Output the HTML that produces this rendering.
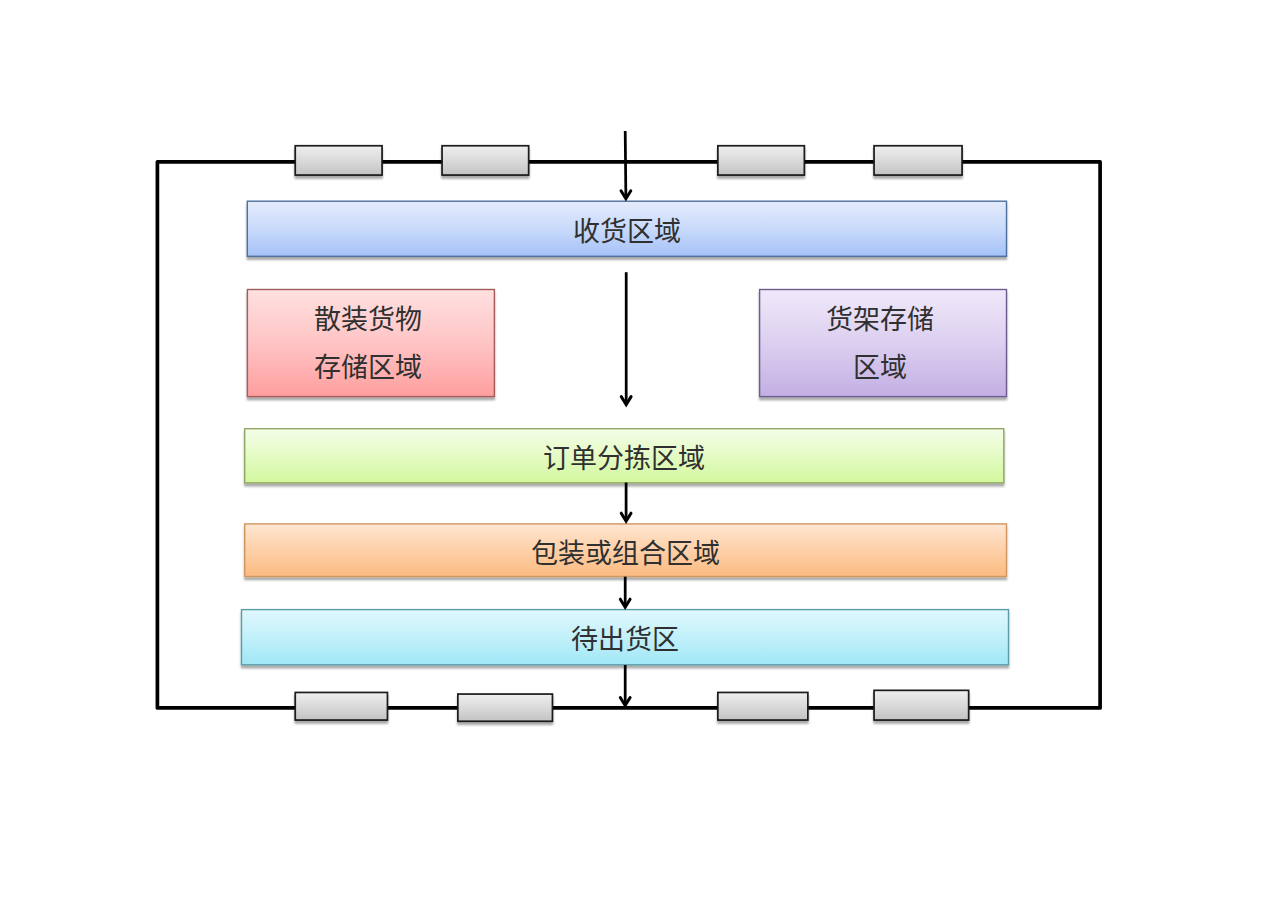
<!DOCTYPE html>
<html lang="zh-CN">
<head>
<meta charset="utf-8">
<title>仓库布局</title>
<style>
  html, body { margin: 0; padding: 0; background: #ffffff; }
  body { width: 1269px; height: 898px; position: relative; overflow: hidden;
         font-family: "Liberation Serif", serif; }
  svg { position: absolute; left: 0; top: 0; }
  .t { position: absolute; box-sizing: border-box; display: flex; align-items: center;
       justify-content: center; text-align: center; color: #303030; font-size: 27px;
       line-height: 48px; white-space: nowrap; }
</style>
</head>
<body>
<svg width="1269" height="898" viewBox="0 0 1269 898">
  <defs>
    <filter id="sh" x="-10%" y="-20%" width="120%" height="160%">
      <feGaussianBlur in="SourceAlpha" stdDeviation="1.2"/>
      <feOffset dx="0" dy="2.5" result="b"/>
      <feComponentTransfer><feFuncA type="linear" slope="0.34"/></feComponentTransfer>
      <feMerge><feMergeNode/><feMergeNode in="SourceGraphic"/></feMerge>
    </filter>
    <linearGradient id="gGray" x1="0" y1="0" x2="0" y2="1">
      <stop offset="0" stop-color="#efefef"/><stop offset="0.45" stop-color="#dcdcdc"/><stop offset="1" stop-color="#c3c3c3"/>
    </linearGradient>
    <linearGradient id="gblue" x1="0" y1="0" x2="0" y2="1"><stop offset="0" stop-color="#e4ebfb"/><stop offset="0.5" stop-color="#c9dafb"/><stop offset="1" stop-color="#a4c1f7"/></linearGradient>
    <linearGradient id="gred" x1="0" y1="0" x2="0" y2="1"><stop offset="0" stop-color="#ffe0e0"/><stop offset="0.5" stop-color="#ffc4c5"/><stop offset="1" stop-color="#ff9e9e"/></linearGradient>
    <linearGradient id="gpurple" x1="0" y1="0" x2="0" y2="1"><stop offset="0" stop-color="#f0e9fa"/><stop offset="0.5" stop-color="#dccff0"/><stop offset="1" stop-color="#c3afe3"/></linearGradient>
    <linearGradient id="ggreen" x1="0" y1="0" x2="0" y2="1"><stop offset="0" stop-color="#f5fde9"/><stop offset="0.5" stop-color="#e4fbc4"/><stop offset="1" stop-color="#d3f79d"/></linearGradient>
    <linearGradient id="gorange" x1="0" y1="0" x2="0" y2="1"><stop offset="0" stop-color="#fee6d2"/><stop offset="0.5" stop-color="#fdd0a8"/><stop offset="1" stop-color="#fbbb80"/></linearGradient>
    <linearGradient id="gcyan" x1="0" y1="0" x2="0" y2="1"><stop offset="0" stop-color="#e0f8fd"/><stop offset="0.5" stop-color="#c2f0fa"/><stop offset="1" stop-color="#a0e7f6"/></linearGradient>
  </defs>
  <rect x="157.4" y="161.8" width="942.7" height="546.1" fill="none" stroke="#000" stroke-width="3.7" stroke-linejoin="round"/>
  <rect x="295.25" y="145.75" width="86.80" height="29.30" fill="url(#gGray)" stroke="#1a1a1a" stroke-width="1.7" filter="url(#sh)"/>
  <rect x="442.05" y="145.75" width="86.60" height="29.30" fill="url(#gGray)" stroke="#1a1a1a" stroke-width="1.7" filter="url(#sh)"/>
  <rect x="717.85" y="145.75" width="86.50" height="29.30" fill="url(#gGray)" stroke="#1a1a1a" stroke-width="1.7" filter="url(#sh)"/>
  <rect x="874.05" y="145.75" width="88.00" height="29.30" fill="url(#gGray)" stroke="#1a1a1a" stroke-width="1.7" filter="url(#sh)"/>
  <rect x="295.25" y="692.45" width="92.20" height="27.60" fill="url(#gGray)" stroke="#1a1a1a" stroke-width="1.7" filter="url(#sh)"/>
  <rect x="457.85" y="694.05" width="94.60" height="27.20" fill="url(#gGray)" stroke="#1a1a1a" stroke-width="1.7" filter="url(#sh)"/>
  <rect x="717.85" y="692.45" width="90.00" height="27.60" fill="url(#gGray)" stroke="#1a1a1a" stroke-width="1.7" filter="url(#sh)"/>
  <rect x="874.05" y="690.35" width="94.60" height="29.70" fill="url(#gGray)" stroke="#1a1a1a" stroke-width="1.7" filter="url(#sh)"/>
  <rect x="247.30" y="201.20" width="759.20" height="55.10" fill="url(#gblue)" stroke="#4e6f9f" stroke-width="1.4" filter="url(#sh)"/>
  <rect x="247.40" y="289.50" width="247.00" height="107.10" fill="url(#gred)" stroke="#a35b5b" stroke-width="1.4" filter="url(#sh)"/>
  <rect x="759.60" y="289.50" width="246.90" height="107.10" fill="url(#gpurple)" stroke="#6c5d8e" stroke-width="1.4" filter="url(#sh)"/>
  <rect x="244.70" y="428.70" width="759.10" height="54.20" fill="url(#ggreen)" stroke="#8fa765" stroke-width="1.4" filter="url(#sh)"/>
  <rect x="244.70" y="523.90" width="761.80" height="52.60" fill="url(#gorange)" stroke="#cf975f" stroke-width="1.4" filter="url(#sh)"/>
  <rect x="241.50" y="609.60" width="767.00" height="55.20" fill="url(#gcyan)" stroke="#5a9da8" stroke-width="1.4" filter="url(#sh)"/>
  <g fill="none" stroke="#000">
    <line x1="625.2" y1="131.0" x2="625.9" y2="198.44" stroke-width="2.75"/>
    <polyline points="621.00,190.79 625.90,198.74 630.80,190.79" stroke-width="3.0" stroke-linecap="round" stroke-linejoin="miter"/>
    <line x1="626.2" y1="272.2" x2="626.2" y2="404.24" stroke-width="2.75"/>
    <polyline points="621.30,396.59 626.20,404.54 631.10,396.59" stroke-width="3.0" stroke-linecap="round" stroke-linejoin="miter"/>
    <line x1="626.1" y1="482.5" x2="626.1" y2="520.84" stroke-width="2.75"/>
    <polyline points="621.20,513.19 626.10,521.14 631.00,513.19" stroke-width="3.0" stroke-linecap="round" stroke-linejoin="miter"/>
    <line x1="625.2" y1="576.7" x2="625.2" y2="606.84" stroke-width="2.75"/>
    <polyline points="620.30,599.19 625.20,607.14 630.10,599.19" stroke-width="3.0" stroke-linecap="round" stroke-linejoin="miter"/>
    <line x1="625.2" y1="665.0" x2="625.2" y2="705.14" stroke-width="2.75"/>
    <polyline points="620.30,697.49 625.20,705.44 630.10,697.49" stroke-width="3.0" stroke-linecap="round" stroke-linejoin="miter"/>
  </g>
</svg>
<div class="t" style="left:247px;top:201px;width:760px;height:56px;padding-top:6px">收货区域</div>
<div class="t" style="left:247px;top:289px;width:248px;height:108px;padding-right:6px;padding-top:2px">散装货物<br>存储区域</div>
<div class="t" style="left:759px;top:289px;width:248px;height:108px;padding-right:6px;padding-top:2px">货架存储<br>区域</div>
<div class="t" style="left:244px;top:428px;width:760px;height:55px;padding-top:6px">订单分拣区域</div>
<div class="t" style="left:244px;top:523.5px;width:763px;height:53.5px;padding-top:7.5px">包装或组合区域</div>
<div class="t" style="left:241px;top:609px;width:768px;height:56px;padding-top:6px">待出货区</div>
</body>
</html>
